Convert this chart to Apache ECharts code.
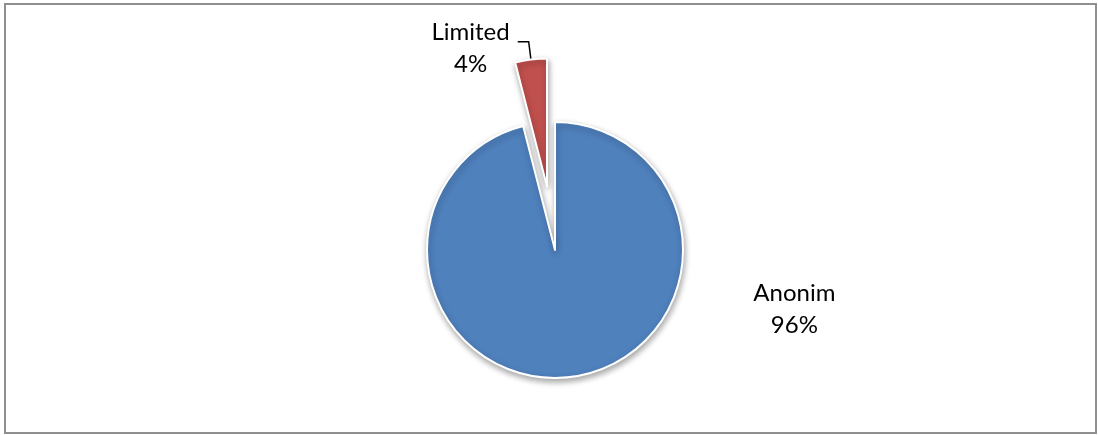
<!DOCTYPE html>
<html>
<head>
<meta charset="utf-8">
<style>
  html, body { margin: 0; padding: 0; background: #ffffff; }
  #chart { width: 1098px; height: 435px; }
</style>
<script src="https://cdn.jsdelivr.net/npm/echarts@6/dist/echarts.min.js"></script>
</head>
<body>
<div id="chart"></div>
<script>
// Company types and their shares (percent)
const categories = ['Anonim', 'Limited'];
const shares = [96, 4];
const colors = ['#4F81BD', '#C0504D'];

const chart = echarts.init(document.getElementById('chart'), null, { renderer: 'canvas' });

const textStyle = {
  fontFamily: 'Lato',
  fontSize: 24,
  lineHeight: 32,
  color: '#000000',
  align: 'center'
};

const pieData = categories.map((name, i) => ({
  name: name,
  value: shares[i],
  itemStyle: { color: colors[i] },
  // the small slice is pulled out of the pie
  selected: i === 1,
  label: i === 0
    ? { position: 'inside', formatter: '{t|{b}}\n{t|{d}%}' }
    : { position: 'outside', formatter: '{s| }\n{t|{b}}\n{t|{d}%}' },
  labelLine: { show: i === 1 }
}));

chart.setOption({
  animation: false,
  graphic: [{
    type: 'rect',
    shape: { x: 5, y: 4, width: 1091, height: 429 },
    style: { fill: null, stroke: '#8f8f8f', lineWidth: 2 },
    silent: true,
    z: 0
  }],
  series: [{
    type: 'pie',
    center: [555, 250],
    radius: [0, 128],
    startAngle: 90,
    clockwise: true,
    selectedMode: 'single',
    selectedOffset: 64,
    avoidLabelOverlap: false,
    itemStyle: {
      borderColor: '#ffffff',
      borderWidth: 2,
      shadowBlur: 6,
      shadowOffsetX: 1,
      shadowOffsetY: 3,
      shadowColor: 'rgba(0,0,0,0.35)'
    },
    label: {
      color: '#000000',
      distanceToLabelLine: 8,
      rich: {
        t: textStyle,
        s: { fontSize: 10, lineHeight: 14 }
      }
    },
    labelLine: {
      length: 18,
      length2: 11,
      lineStyle: { color: '#000000', width: 1.5 }
    },
    labelLayout: function (params) {
      // the large slice's label sits to the right of the pie
      if (params.dataIndex === 0) {
        return { dx: 231, dy: -7 };
      }
      return {};
    },
    emphasis: { disabled: true },
    data: pieData
  }]
});
</script>
</body>
</html>
